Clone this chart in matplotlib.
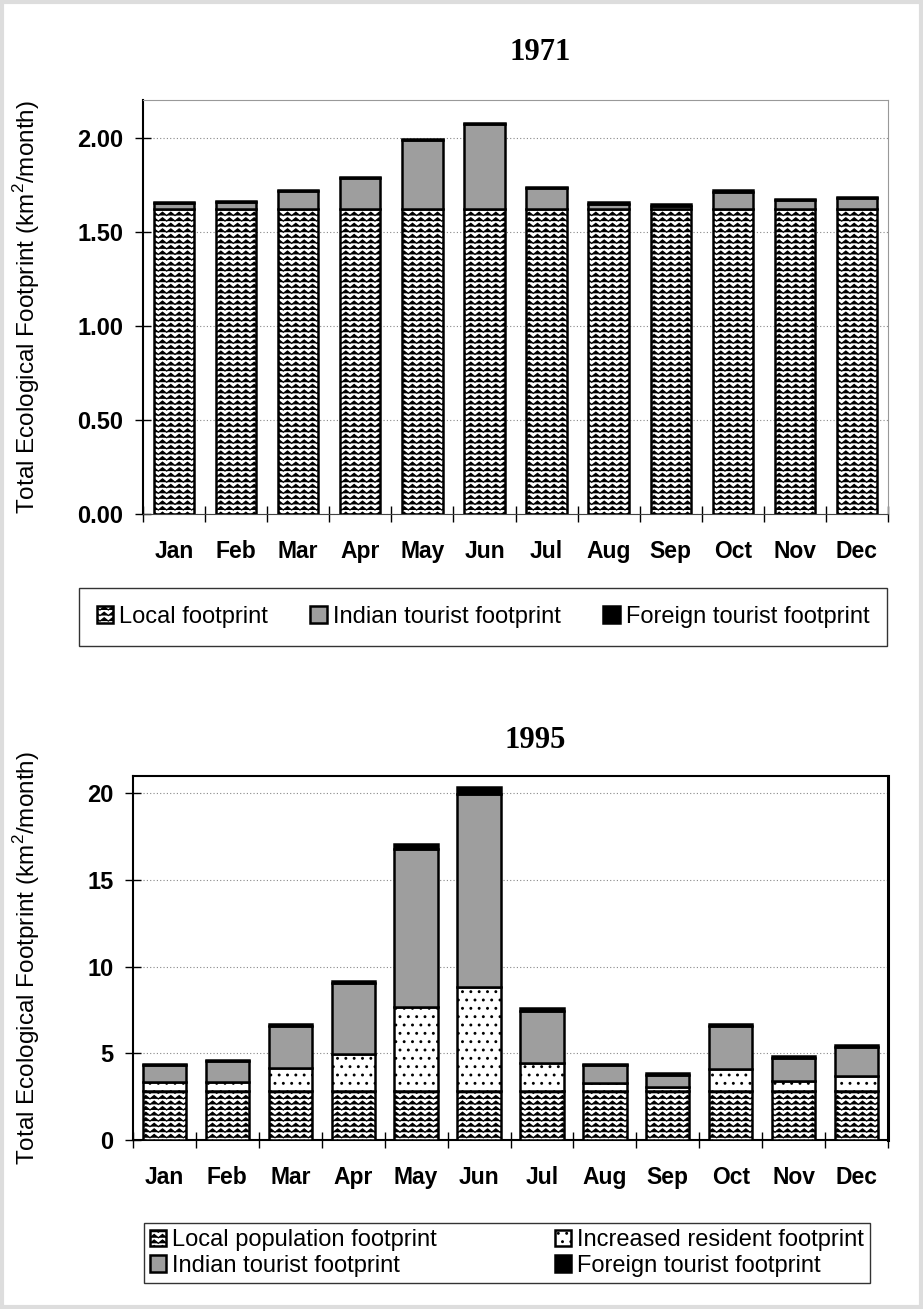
import numpy as np
import matplotlib
matplotlib.use('Agg')
import matplotlib.pyplot as plt
import matplotlib.hatch as mhatch
from matplotlib.path import Path
from matplotlib.patches import Rectangle

#%% data
months = ['Jan', 'Feb', 'Mar', 'Apr', 'May', 'Jun', 'Jul', 'Aug', 'Sep', 'Oct', 'Nov', 'Dec']

# 1971 (km2/month)
local_71 = [1.62, 1.62, 1.62, 1.62, 1.62, 1.62, 1.62, 1.62, 1.62, 1.62, 1.62, 1.62]
indian_71 = [0.035, 0.04, 0.095, 0.165, 0.37, 0.455, 0.11, 0.03, 0.015, 0.09, 0.05, 0.06]
foreign_71 = [0.005, 0.005, 0.005, 0.005, 0.005, 0.005, 0.01, 0.01, 0.01, 0.01, 0.005, 0.005]

# 1995 (km2/month)
local_95 = [2.8, 2.8, 2.8, 2.8, 2.8, 2.8, 2.8, 2.8, 2.8, 2.8, 2.8, 2.8]
resident_95 = [0.55, 0.55, 1.35, 2.15, 4.9, 6.0, 1.65, 0.5, 0.25, 1.3, 0.6, 0.9]
indian_95 = [0.98, 1.2, 2.45, 4.1, 9.1, 11.15, 3.0, 1.0, 0.7, 2.45, 1.35, 1.65]
foreign_95 = [0.05, 0.05, 0.08, 0.15, 0.3, 0.4, 0.15, 0.06, 0.1, 0.15, 0.12, 0.12]

#%% wavy hatch for the local footprint (uses the '+' character)
class WaveHatch(mhatch.HatchPatternBase):
    def __init__(self, hatch, density):
        self.num_rows = int(hatch.count('+') * density)
        self.num_waves = int(self.num_rows * 2 / 3)
        self.pts = 2 * self.num_waves + 1
        self.num_vertices = self.num_rows * self.pts if self.num_rows else 0

    def set_vertices_and_codes(self, vertices, codes):
        x = np.linspace(0, 1, self.pts)
        amp = 0.3 / self.num_rows
        sign = np.where(np.arange(self.pts) % 2 == 0, -1, 1)
        for i in range(self.num_rows):
            y0 = (i + 0.5) / self.num_rows
            s = slice(i * self.pts, (i + 1) * self.pts)
            vertices[s, 0] = x
            vertices[s, 1] = y0 + amp * sign
            codes[s] = Path.LINETO
            codes[i * self.pts] = Path.MOVETO

mhatch._hatch_types = [WaveHatch, mhatch.SmallFilledCircles]

plt.rcParams['font.family'] = ['Liberation Sans', 'DejaVu Sans']
plt.rcParams['mathtext.fontset'] = 'custom'
plt.rcParams['mathtext.rm'] = 'Liberation Sans'
plt.rcParams['hatch.linewidth'] = 0.9

W, H = 923, 1309
fig = plt.figure(figsize=(W / 100, H / 100), dpi=100)
fig.patches.append(Rectangle((0.002, 0.0015), 0.996, 0.997, transform=fig.transFigure,
                             fill=False, edgecolor='#dddddd', linewidth=3))

ax1 = fig.add_axes([143 / W, 1 - 514 / H, 745 / W, 414 / H])
ax2 = fig.add_axes([133 / W, 1 - 1140 / H, 755 / W, 364 / H])

x = np.arange(len(months))
ec = 'black'
lw = 1.8
gray = '#9e9e9e'

# 1971
b1 = ax1.bar(x, local_71, 0.65, facecolor='white', edgecolor=ec, linewidth=lw, hatch='+++', zorder=3)
bot = np.array(local_71)
b2 = ax1.bar(x, indian_71, 0.65, bottom=bot, facecolor=gray, edgecolor=ec, linewidth=lw, zorder=3)
bot = bot + np.array(indian_71)
b3 = ax1.bar(x, foreign_71, 0.65, bottom=bot, facecolor='black', edgecolor=ec, linewidth=lw, zorder=3)

# 1995
c1 = ax2.bar(x, local_95, 0.69, facecolor='white', edgecolor=ec, linewidth=lw, hatch='+++', zorder=3)
bot = np.array(local_95)
c2 = ax2.bar(x, resident_95, 0.69, bottom=bot, facecolor='white', edgecolor=ec, linewidth=lw, hatch='..', zorder=3)
bot = bot + np.array(resident_95)
c3 = ax2.bar(x, indian_95, 0.69, bottom=bot, facecolor=gray, edgecolor=ec, linewidth=lw, zorder=3)
bot = bot + np.array(indian_95)
c4 = ax2.bar(x, foreign_95, 0.69, bottom=bot, facecolor='black', edgecolor=ec, linewidth=lw, zorder=3)

ax1.set_ylim(0, 2.2)
ax1.set_yticks([0, 0.5, 1.0, 1.5, 2.0])
ax1.set_yticklabels(['%.2f' % v for v in [0, 0.5, 1.0, 1.5, 2.0]])
ax2.set_ylim(0, 21)
ax2.set_yticks([0, 5, 10, 15, 20])

for ax in (ax1, ax2):
    ax.set_xlim(-0.5, 11.5)
    ax.set_xticks(x)
    ax.set_xticklabels(months)
    ax.set_xticks(np.arange(-0.5, 12, 1), minor=True)
    ax.tick_params(axis='x', which='major', length=0, pad=19, labelsize=16.5)
    ax.tick_params(axis='x', which='minor', direction='inout', length=12, width=1)
    ax.tick_params(axis='y', direction='inout', length=12, width=1, labelsize=17, pad=8)
    for lab in ax.get_xticklabels() + ax.get_yticklabels():
        lab.set_fontweight('bold')
    ax.grid(axis='y', color='#888888', linestyle=(0, (1, 2)), linewidth=0.8, zorder=0)
    ax.set_axisbelow(True)
    ax.set_ylabel(r'Total Ecological Footprint (km$^2$/month)', fontsize=17.5)

ax1.yaxis.set_label_coords((42 - 143) / 745, 0.5)
ax2.yaxis.set_label_coords((42 - 133) / 755, 0.5)

ax1.spines['left'].set_linewidth(1.5)
ax1.spines['bottom'].set_color('#444444')
ax1.spines['top'].set_color('#999999')
ax1.spines['right'].set_color('#999999')
for s in ax2.spines.values():
    s.set_linewidth(1.5)
ax2.spines['right'].set_linewidth(2.2)

fig.text(540 / W, 1 - 52 / H, '1971', family='Liberation Serif', fontweight='bold', fontsize=22,
         ha='center', va='center')
fig.text(535 / W, 1 - 740 / H, '1995', family='Liberation Serif', fontweight='bold', fontsize=22,
         ha='center', va='center')

leg_kw = dict(frameon=True, fancybox=False, edgecolor='black', fontsize=17,
              handlelength=0.7, handleheight=0.7, handletextpad=0.25, borderaxespad=0)
l1 = fig.legend([b1, b2, b3], ['Local footprint', 'Indian tourist footprint', 'Foreign tourist footprint'],
                loc='center', bbox_to_anchor=(483 / W, 1 - 617 / H), ncol=3, columnspacing=1.8,
                borderpad=0.75, **leg_kw)
l2 = fig.legend([c1, c3, c2, c4], ['Local population footprint', 'Indian tourist footprint',
                                   'Increased resident footprint', 'Foreign tourist footprint'],
                loc='center', bbox_to_anchor=(507 / W, 1 - 1253 / H), ncol=2, columnspacing=5.0,
                borderpad=0.25, labelspacing=0.15, **leg_kw)
for l in (l1, l2):
    l.get_frame().set_linewidth(1.0)

fig.savefig('out.png', dpi=100)
